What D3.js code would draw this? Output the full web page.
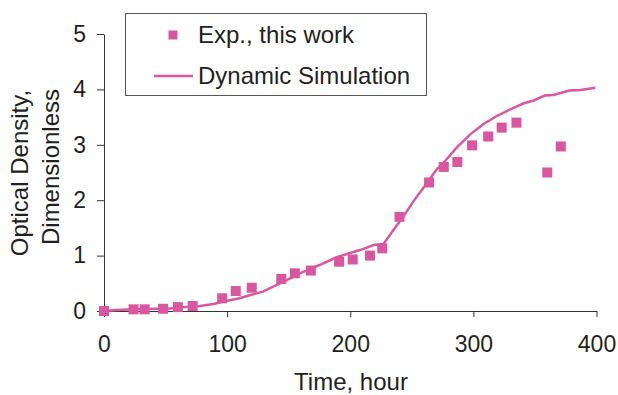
<!DOCTYPE html>
<html>
<head>
<meta charset="utf-8">
<script src="https://cdn.jsdelivr.net/npm/d3@7"></script>
<style>
  body { margin: 0; background: #fff; }
  text { font-family: "Liberation Sans", Arial, sans-serif; fill: #231f20; }
</style>
</head>
<body>
<svg></svg>
<script>
// experimental points (hours, OD)
const expTime = [0, 24, 33, 48, 60, 72, 96, 107, 120, 144, 155, 168, 191, 202, 216, 226,
                 240, 264, 276, 287, 299, 312, 323, 335, 360, 371];
const expOD = [0.0, 0.03, 0.03, 0.04, 0.07, 0.09, 0.23, 0.36, 0.42, 0.58, 0.68, 0.73, 0.89, 0.93, 1.0, 1.13,
               1.70, 2.32, 2.60, 2.69, 2.99, 3.15, 3.31, 3.40, 2.50, 2.97];

// dynamic simulation curve
const simTime = [0, 10, 24, 40, 51, 65, 78, 90, 97, 110, 119, 129, 146, 159, 175, 189, 203, 208, 219, 227,
                 235, 243, 251, 261, 270, 278, 286, 297, 308, 319, 330, 341, 349, 358, 365, 378, 387, 399];
const simOD = [0, 0.02, 0.03, 0.04, 0.04, 0.07, 0.09, 0.13, 0.17, 0.23, 0.29, 0.35, 0.53, 0.68, 0.83, 0.97, 1.07, 1.10, 1.19, 1.21,
               1.46, 1.70, 1.97, 2.27, 2.55, 2.73, 2.94, 3.18, 3.37, 3.52, 3.64, 3.75, 3.80, 3.89, 3.90, 3.98, 3.99, 4.03];

const xTicks = [0, 100, 200, 300, 400];
const yTicks = [0, 1, 2, 3, 4, 5];

const width = 618, height = 395;
const pink = "#d9579f";
const axisColor = "#333";

const svg = d3.select("svg").attr("width", width).attr("height", height);

const x = d3.scaleLinear().domain([0, 400]).range([104, 596.5]);
const y = d3.scaleLinear().domain([0, 5]).range([311, 34]);

// axes
const xAxis = svg.append("g")
    .attr("transform", `translate(0,${y(0)})`)
    .call(d3.axisBottom(x).tickValues(xTicks).tickSize(6).tickPadding(19).tickSizeOuter(0));
const yAxis = svg.append("g")
    .attr("transform", `translate(${x(0)},0)`)
    .call(d3.axisLeft(y).tickValues(yTicks).tickFormat(d3.format("d")).tickSize(7).tickPadding(11).tickSizeOuter(0));

[xAxis, yAxis].forEach(g => {
    g.select(".domain").attr("stroke", axisColor);
    g.selectAll(".tick line").attr("stroke", axisColor);
    g.selectAll(".tick text")
        .attr("fill", "#231f20")
        .style("font-size", "23px")
        .style("font-family", "'Liberation Sans', Arial, sans-serif");
});

// simulation line
const line = d3.line().x((d, i) => x(simTime[i])).y(d => y(d));
svg.append("path")
    .datum(simOD)
    .attr("fill", "none")
    .attr("stroke", pink)
    .attr("stroke-width", 2.5)
    .attr("d", line);

// experimental markers
const sq = 10;
svg.append("g").selectAll("rect")
    .data(expOD)
    .join("rect")
    .attr("x", (d, i) => x(expTime[i]) - sq / 2)
    .attr("y", d => y(d) - sq / 2)
    .attr("width", sq)
    .attr("height", sq)
    .attr("fill", pink);

// axis titles
svg.append("text")
    .attr("x", 351).attr("y", 390)
    .attr("text-anchor", "middle")
    .style("font-size", "24px")
    .text("Time, hour");

svg.append("text")
    .attr("transform", "translate(28,173) rotate(-90)")
    .attr("text-anchor", "middle")
    .style("font-size", "24px")
    .text("Optical Density,");
svg.append("text")
    .attr("transform", "translate(59,167) rotate(-90)")
    .attr("text-anchor", "middle")
    .style("font-size", "24px")
    .text("Dimensionless");

// legend
const legend = svg.append("g");
legend.append("rect")
    .attr("x", 125.5).attr("y", 13.5)
    .attr("width", 301).attr("height", 82)
    .attr("fill", "#fff")
    .attr("stroke", "#555");
legend.append("rect")
    .attr("x", 168.5).attr("y", 30.5)
    .attr("width", 9).attr("height", 9)
    .attr("fill", pink);
legend.append("text")
    .attr("x", 198).attr("y", 43)
    .style("font-size", "24px")
    .text("Exp., this work");
legend.append("line")
    .attr("x1", 154).attr("x2", 193)
    .attr("y1", 76).attr("y2", 76)
    .attr("stroke", pink)
    .attr("stroke-width", 2.5);
legend.append("text")
    .attr("x", 198).attr("y", 84)
    .style("font-size", "24px")
    .text("Dynamic Simulation");
</script>
</body>
</html>
